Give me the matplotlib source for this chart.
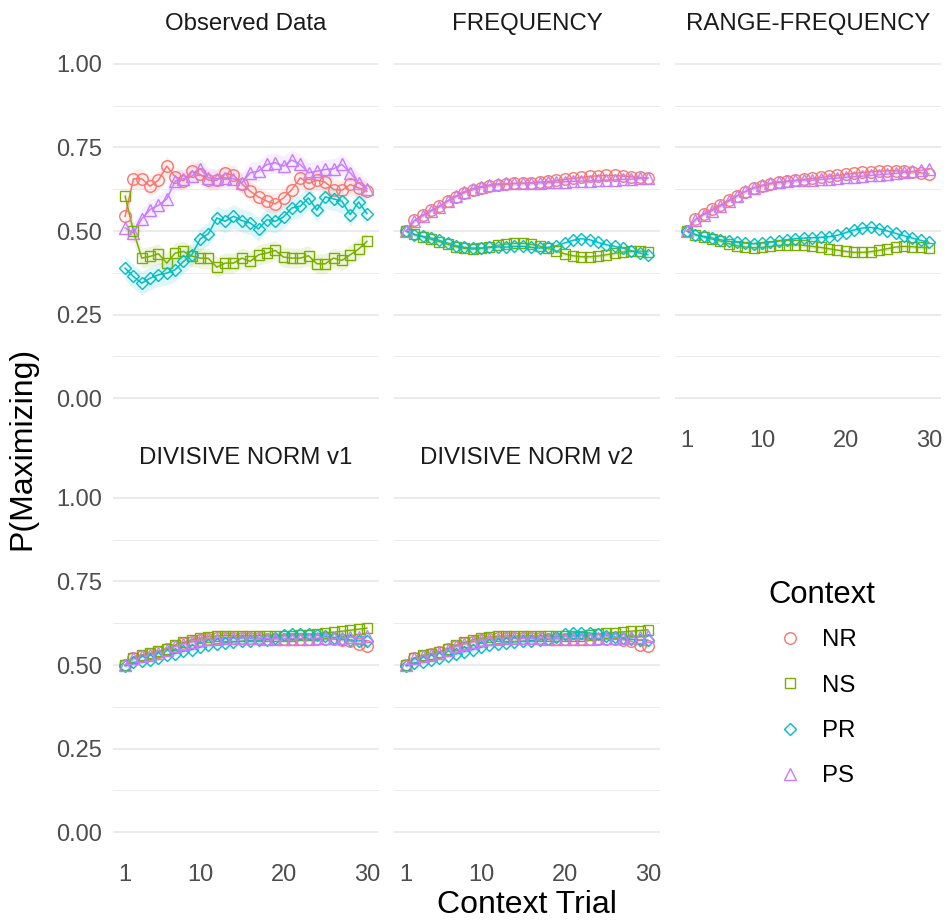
import matplotlib
matplotlib.use("Agg")
import matplotlib.pyplot as plt
from matplotlib.lines import Line2D
import numpy as np

plt.rcParams['font.family'] = ['Liberation Sans', 'DejaVu Sans']

# data
trials = np.arange(1, 31)
contexts = ["NR", "NS", "PR", "PS"]
panel_titles = ["Observed Data", "FREQUENCY", "RANGE-FREQUENCY",
                "DIVISIVE NORM v1", "DIVISIVE NORM v2"]

obs_nr = [0.544, 0.656, 0.656, 0.634, 0.652, 0.694, 0.662, 0.650, 0.679, 0.669,
          0.652, 0.652, 0.672, 0.667, 0.641, 0.619, 0.602, 0.589, 0.581, 0.599,
          0.624, 0.659, 0.642, 0.652, 0.646, 0.624, 0.622, 0.639, 0.629, 0.619]
obs_ns = [0.604, 0.500, 0.419, 0.424, 0.432, 0.404, 0.434, 0.439, 0.425, 0.419,
          0.418, 0.392, 0.404, 0.404, 0.419, 0.409, 0.429, 0.434, 0.442, 0.422,
          0.419, 0.419, 0.426, 0.402, 0.402, 0.419, 0.412, 0.429, 0.446, 0.469]
obs_pr = [0.389, 0.364, 0.344, 0.359, 0.369, 0.374, 0.384, 0.409, 0.429, 0.476,
          0.492, 0.539, 0.529, 0.544, 0.531, 0.524, 0.506, 0.534, 0.529, 0.542,
          0.569, 0.574, 0.599, 0.562, 0.602, 0.596, 0.589, 0.549, 0.587, 0.552]
obs_ps = [0.509, 0.494, 0.536, 0.564, 0.577, 0.596, 0.649, 0.656, 0.664, 0.686,
          0.659, 0.656, 0.659, 0.656, 0.644, 0.674, 0.679, 0.699, 0.704, 0.694,
          0.712, 0.699, 0.674, 0.679, 0.684, 0.686, 0.699, 0.674, 0.644, 0.626]
obs_se = {"NR": 0.030, "NS": 0.030, "PR": 0.035, "PS": 0.030}

freq_nr = [0.500, 0.532, 0.548, 0.562, 0.575, 0.590, 0.603, 0.615, 0.624, 0.630,
           0.635, 0.638, 0.640, 0.642, 0.643, 0.644, 0.646, 0.648, 0.651, 0.654,
           0.657, 0.660, 0.663, 0.665, 0.666, 0.666, 0.664, 0.662, 0.660, 0.658]
freq_ns = [0.500, 0.490, 0.483, 0.475, 0.468, 0.460, 0.453, 0.448, 0.446, 0.448,
           0.452, 0.457, 0.461, 0.463, 0.463, 0.460, 0.455, 0.448, 0.440, 0.432,
           0.426, 0.423, 0.423, 0.425, 0.429, 0.433, 0.437, 0.439, 0.440, 0.438]
freq_pr = [0.499, 0.489, 0.484, 0.479, 0.472, 0.464, 0.456, 0.451, 0.449, 0.449,
           0.451, 0.452, 0.452, 0.454, 0.454, 0.451, 0.449, 0.451, 0.456, 0.464,
           0.472, 0.477, 0.474, 0.466, 0.459, 0.454, 0.449, 0.441, 0.434, 0.429]
freq_ps = [0.500, 0.530, 0.545, 0.560, 0.572, 0.590, 0.605, 0.618, 0.627, 0.633,
           0.638, 0.641, 0.642, 0.642, 0.642, 0.643, 0.644, 0.645, 0.646, 0.647,
           0.648, 0.649, 0.650, 0.651, 0.652, 0.653, 0.654, 0.655, 0.657, 0.659]

rf_nr = [0.500, 0.535, 0.552, 0.565, 0.578, 0.592, 0.606, 0.618, 0.628, 0.635,
         0.641, 0.645, 0.648, 0.651, 0.654, 0.657, 0.660, 0.663, 0.666, 0.669,
         0.672, 0.675, 0.677, 0.679, 0.680, 0.680, 0.679, 0.677, 0.674, 0.671]
rf_ns = [0.500, 0.489, 0.482, 0.476, 0.470, 0.462, 0.456, 0.452, 0.450, 0.451,
         0.454, 0.457, 0.459, 0.459, 0.457, 0.454, 0.451, 0.447, 0.443, 0.439,
         0.436, 0.436, 0.438, 0.442, 0.447, 0.452, 0.454, 0.453, 0.451, 0.450]
rf_pr = [0.499, 0.489, 0.484, 0.479, 0.474, 0.469, 0.466, 0.464, 0.462, 0.464,
         0.466, 0.470, 0.474, 0.477, 0.479, 0.480, 0.481, 0.483, 0.487, 0.495,
         0.503, 0.509, 0.511, 0.507, 0.500, 0.493, 0.486, 0.479, 0.472, 0.466]
rf_ps = [0.500, 0.534, 0.549, 0.561, 0.574, 0.589, 0.604, 0.619, 0.630, 0.637,
         0.643, 0.647, 0.649, 0.651, 0.652, 0.652, 0.654, 0.656, 0.658, 0.660,
         0.662, 0.664, 0.666, 0.668, 0.670, 0.672, 0.675, 0.678, 0.681, 0.685]

dn1_nr = [0.500, 0.522, 0.528, 0.534, 0.540, 0.549, 0.558, 0.565, 0.570, 0.575,
          0.578, 0.580, 0.581, 0.581, 0.581, 0.580, 0.580, 0.579, 0.579, 0.578,
          0.578, 0.578, 0.578, 0.578, 0.578, 0.577, 0.576, 0.572, 0.562, 0.558]
dn1_ns = [0.500, 0.522, 0.530, 0.535, 0.541, 0.549, 0.559, 0.568, 0.575, 0.580,
          0.585, 0.587, 0.588, 0.588, 0.588, 0.588, 0.588, 0.587, 0.587, 0.588,
          0.588, 0.589, 0.590, 0.593, 0.596, 0.598, 0.601, 0.604, 0.607, 0.610]
dn1_pr = [0.497, 0.508, 0.511, 0.516, 0.521, 0.529, 0.534, 0.541, 0.546, 0.553,
          0.559, 0.563, 0.566, 0.569, 0.571, 0.573, 0.574, 0.576, 0.582, 0.590,
          0.593, 0.594, 0.593, 0.590, 0.586, 0.582, 0.578, 0.575, 0.572, 0.573]
dn1_ps = [0.500, 0.520, 0.526, 0.531, 0.537, 0.546, 0.556, 0.563, 0.569, 0.574,
          0.577, 0.579, 0.580, 0.580, 0.580, 0.580, 0.580, 0.579, 0.579, 0.578,
          0.578, 0.578, 0.579, 0.580, 0.580, 0.581, 0.582, 0.583, 0.584, 0.586]

dn2_nr = [0.500, 0.521, 0.527, 0.533, 0.540, 0.549, 0.558, 0.565, 0.570, 0.575,
          0.578, 0.580, 0.581, 0.581, 0.581, 0.580, 0.580, 0.579, 0.579, 0.578,
          0.578, 0.578, 0.578, 0.578, 0.578, 0.577, 0.576, 0.571, 0.561, 0.558]
dn2_ns = [0.500, 0.521, 0.529, 0.534, 0.540, 0.549, 0.559, 0.568, 0.575, 0.580,
          0.584, 0.586, 0.587, 0.587, 0.587, 0.587, 0.587, 0.586, 0.586, 0.587,
          0.587, 0.588, 0.589, 0.592, 0.595, 0.597, 0.599, 0.601, 0.603, 0.605]
dn2_pr = [0.497, 0.507, 0.510, 0.515, 0.520, 0.528, 0.533, 0.540, 0.546, 0.553,
          0.559, 0.563, 0.566, 0.569, 0.571, 0.573, 0.575, 0.577, 0.584, 0.592,
          0.596, 0.597, 0.596, 0.592, 0.588, 0.584, 0.580, 0.577, 0.574, 0.574]
dn2_ps = [0.500, 0.520, 0.526, 0.531, 0.537, 0.546, 0.556, 0.563, 0.569, 0.574,
          0.577, 0.579, 0.580, 0.580, 0.580, 0.580, 0.580, 0.579, 0.579, 0.578,
          0.578, 0.578, 0.579, 0.580, 0.580, 0.581, 0.582, 0.583, 0.584, 0.586]
model_se = 0.006

panels = [
    {"NR": obs_nr, "NS": obs_ns, "PR": obs_pr, "PS": obs_ps},
    {"NR": freq_nr, "NS": freq_ns, "PR": freq_pr, "PS": freq_ps},
    {"NR": rf_nr, "NS": rf_ns, "PR": rf_pr, "PS": rf_ps},
    {"NR": dn1_nr, "NS": dn1_ns, "PR": dn1_pr, "PS": dn1_ps},
    {"NR": dn2_nr, "NS": dn2_ns, "PR": dn2_pr, "PS": dn2_ps},
]

# styling
colors = {"NR": "#F8766D", "NS": "#7CAE00", "PR": "#00BFC4", "PS": "#C77CFF"}
markers = {"NR": "o", "NS": "s", "PR": "D", "PS": "^"}
msizes = {"NR": 8.3, "NS": 7.8, "PR": 6.4, "PS": 9.2}

W, H = 947, 921
fig = plt.figure(figsize=(W / 100, H / 100), dpi=100)

def px_rect(l, t, r, b):
    return [l / W, 1 - b / H, (r - l) / W, (b - t) / H]

cols = [(113, 379), (394, 660), (675, 941)]
rows = [(47, 415), (481, 849)]
pos = [(0, 0), (0, 1), (0, 2), (1, 0), (1, 1)]

for i, data in enumerate(panels):
    r, c = pos[i]
    ax = fig.add_axes(px_rect(cols[c][0], rows[r][0], cols[c][1], rows[r][1]))
    ax.set_xlim(-0.45, 31.45)
    ax.set_ylim(-0.05, 1.05)
    ax.set_yticks([0, 0.25, 0.5, 0.75, 1.0])
    ax.set_yticks([0.125, 0.375, 0.625, 0.875], minor=True)
    ax.set_yticklabels(["0.00", "0.25", "0.50", "0.75", "1.00"])
    ax.set_xticks([1, 10, 20, 30])
    ax.grid(True, which="major", axis="y", color="#EBEBEB", lw=1.4)
    ax.grid(True, which="minor", axis="y", color="#EBEBEB", lw=0.7)
    ax.set_axisbelow(True)
    for s in ax.spines.values():
        s.set_visible(False)
    ax.tick_params(which="both", length=0, labelsize=17, labelcolor="#4D4D4D")
    ax.tick_params(axis="y", pad=8)
    ax.tick_params(axis="x", pad=11)
    if c != 0:
        ax.tick_params(axis="y", labelleft=False)
    if r == 0 and c != 2:
        ax.tick_params(axis="x", labelbottom=False)

    for ctx in contexts:
        y = np.array(data[ctx])
        se = obs_se[ctx] if i == 0 else model_se
        ax.fill_between(trials, y - se, y + se, color=colors[ctx],
                        alpha=0.13 if i == 0 else 0.2, lw=0)
    for ctx in contexts:
        ax.plot(trials, data[ctx], color=colors[ctx], lw=1.1 if i == 0 else 1.0)
    for ctx in contexts:
        ax.plot(trials, data[ctx], ls="none", marker=markers[ctx],
                ms=msizes[ctx], mfc="none", mec=colors[ctx], mew=1.0)

    cx = (cols[c][0] + cols[c][1]) / 2
    cy = rows[r][0] - 23
    fig.text(cx / W, 1 - cy / H, panel_titles[i], ha="center", va="center",
             fontsize=17.3, color="#1A1A1A")

fig.text(22 / W, 1 - 448 / H, "P(Maximizing)", rotation=90, ha="center",
         va="center", fontsize=23)
fig.text(527 / W, 1 - 905 / H, "Context Trial", ha="center", va="center",
         fontsize=23)

handles = [Line2D([], [], ls="none", marker=markers[c], ms=msizes[c],
                  mfc="none", mec=colors[c], mew=1.0) for c in contexts]
leg = fig.legend(handles, contexts, title="Context", loc="upper left",
                 bbox_to_anchor=(756 / W, 1 - 568 / H), frameon=False,
                 fontsize=17.3, title_fontsize=22.3, handlelength=1.8,
                 handletextpad=0.45, labelspacing=0.97, borderpad=0)
leg._legend_box.align = "left"
leg._legend_box.sep = 14

fig.savefig("out.png", dpi=100)
